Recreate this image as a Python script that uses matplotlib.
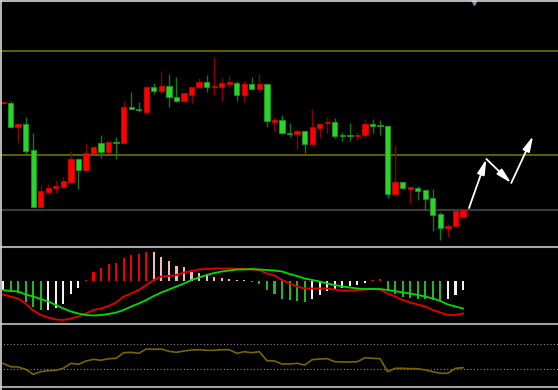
import numpy as np
import matplotlib
matplotlib.use("Agg")
import matplotlib.pyplot as plt
from matplotlib.patches import Rectangle
from matplotlib.lines import Line2D


# candle data (price units)
opens = [14.67, 14.67, 12.30, 12.57, 10.00, 4.30, 5.80, 6.23, 6.30, 6.83,
         9.07, 8.03, 9.67, 10.67, 9.77, 10.80, 10.73, 14.30, 14.13, 13.83,
         16.30, 15.93, 16.40, 15.33, 14.87, 15.50, 16.27, 16.80, 16.30, 16.33,
         16.63, 16.67, 15.53, 16.60, 16.10, 16.57, 12.85, 13.00, 11.70, 11.60,
         11.87, 10.60, 12.23, 12.67, 12.83, 11.50, 11.50, 11.37, 11.47, 12.60,
         12.50, 12.40, 5.63, 6.80, 6.10, 6.23, 5.97, 5.17, 3.57, 2.23,
         2.40, 3.33]
closes = [14.73, 12.30, 12.57, 9.93, 4.33, 5.87, 6.20, 6.37, 6.90, 9.10,
          8.03, 9.70, 10.33, 9.77, 10.80, 10.70, 14.27, 14.10, 13.97, 16.33,
          15.93, 16.40, 15.30, 14.87, 15.67, 16.30, 16.80, 16.33, 16.40, 16.70,
          16.70, 15.53, 16.60, 16.10, 16.57, 12.87, 12.97, 11.67, 11.57, 11.87,
          10.60, 12.30, 12.63, 12.83, 11.43, 11.40, 11.37, 11.50, 12.57, 12.43,
          12.37, 5.63, 6.80, 6.23, 6.27, 5.90, 5.13, 3.50, 2.17, 2.40,
          3.90, 4.00]
highs = [14.80, 14.90, 12.60, 13.30, 11.67, 6.50, 6.63, 6.97, 7.27, 9.90,
         9.17, 10.70, 10.43, 11.50, 10.90, 11.30, 14.93, 15.83, 14.83, 16.37,
         16.70, 17.90, 17.63, 17.27, 15.70, 16.33, 17.17, 17.50, 19.30, 17.20,
         17.37, 16.93, 16.90, 17.27, 17.63, 16.60, 13.27, 13.47, 12.70, 12.13,
         11.90, 14.10, 12.67, 13.27, 13.20, 11.80, 12.70, 11.80, 13.10, 13.13,
         12.97, 12.45, 10.50, 6.85, 6.30, 6.40, 6.00, 6.10, 3.77, 2.60,
         3.95, 4.00]
lows = [14.60, 12.20, 10.83, 9.63, 4.30, 4.30, 5.60, 5.70, 6.25, 6.70,
        6.07, 8.00, 9.57, 9.23, 9.67, 9.10, 10.70, 14.10, 13.77, 13.60,
        15.57, 15.57, 14.30, 14.83, 14.83, 14.73, 16.23, 15.80, 15.47, 14.93,
        16.17, 14.90, 14.77, 16.07, 15.77, 12.33, 11.93, 11.60, 11.30, 10.10,
        9.70, 10.57, 11.17, 11.73, 11.23, 10.87, 10.87, 11.00, 11.23, 11.67,
        11.47, 5.23, 5.60, 6.13, 4.60, 5.00, 4.00, 1.90, 1.00, 1.33,
        2.33, 3.33]

# horizontal levels on the price panel
resist_levels = [19.9, 9.5]
support_level = 4.0

# projected path drawn with white arrows (candle index, price)
path_x = [61.8, 64.1, 67.4, 70.3]
path_y = [4.2, 9.1, 6.7, 11.4]

# MACD
hist = [-0.17, -0.21, -0.23, -0.41, -0.52, -0.58, -0.57, -0.53, -0.45, -0.26,
        -0.13, 0.03, 0.19, 0.27, 0.34, 0.37, 0.47, 0.53, 0.55, 0.59,
        0.58, 0.48, 0.40, 0.31, 0.28, 0.19, 0.16, 0.12, 0.09, 0.07,
        0.05, 0.03, 0.02, -0.02, -0.05, -0.17, -0.25, -0.35, -0.38, -0.39,
        -0.41, -0.35, -0.28, -0.19, -0.15, -0.13, -0.10, -0.08, -0.04, 0.03,
        0.04, -0.18, -0.25, -0.31, -0.33, -0.35, -0.36, -0.37, -0.38, -0.36,
        -0.27, -0.18]
dif = [-0.27, -0.31, -0.35, -0.45, -0.59, -0.68, -0.73, -0.77, -0.78, -0.75,
       -0.71, -0.65, -0.58, -0.55, -0.50, -0.43, -0.31, -0.25, -0.18, -0.08,
       0.02, 0.09, 0.10, 0.12, 0.17, 0.20, 0.23, 0.24, 0.25, 0.25,
       0.25, 0.24, 0.24, 0.23, 0.22, 0.15, 0.11, 0.02, -0.05, -0.11,
       -0.15, -0.15, -0.15, -0.15, -0.17, -0.19, -0.19, -0.18, -0.17, -0.16,
       -0.17, -0.25, -0.31, -0.38, -0.43, -0.47, -0.51, -0.58, -0.63, -0.68,
       -0.68, -0.65]
dea = [-0.18, -0.20, -0.21, -0.27, -0.31, -0.36, -0.41, -0.48, -0.55, -0.61,
       -0.65, -0.68, -0.69, -0.68, -0.66, -0.63, -0.58, -0.51, -0.45, -0.38,
       -0.30, -0.23, -0.17, -0.11, -0.05, 0.02, 0.07, 0.12, 0.16, 0.19,
       0.21, 0.23, 0.23, 0.24, 0.23, 0.22, 0.21, 0.19, 0.14, 0.10,
       0.05, 0.02, -0.01, -0.05, -0.08, -0.11, -0.13, -0.15, -0.16, -0.16,
       -0.16, -0.18, -0.20, -0.23, -0.25, -0.28, -0.31, -0.35, -0.40, -0.47,
       -0.51, -0.55]

# RSI
rsi = [39.1, 33.7, 33.2, 29.5, 21.5, 25.7, 27.3, 27.9, 31.1, 39.1,
       37.5, 42.8, 45.5, 43.9, 46.5, 47.1, 56.1, 56.7, 55.1, 62.0,
       61.5, 62.0, 58.3, 56.7, 58.8, 60.4, 60.9, 59.9, 59.9, 60.9,
       60.9, 55.1, 57.7, 56.1, 57.7, 43.3, 42.8, 38.0, 38.0, 39.1,
       36.4, 44.9, 46.0, 46.5, 41.7, 41.2, 41.2, 41.7, 48.1, 47.1,
       46.5, 25.7, 31.1, 31.1, 30.5, 30.5, 28.4, 25.7, 23.1, 23.1,
       31.1, 32.1]
rsi_levels = [70, 30]


W, H = 558, 390
fig = plt.figure(figsize=(W / 100, H / 100), dpi=100, facecolor='black')

def px_axes(top, bottom):
    # axes spanning pixel rows top..bottom, full width
    ax = fig.add_axes([0, 1 - bottom / H, 1, (bottom - top) / H])
    ax.set_facecolor('black')
    for s in ax.spines.values():
        s.set_visible(False)
    ax.set_xticks([])
    ax.set_yticks([])
    ax.set_xlim(-0.4, 73.6)
    return ax

ax1 = px_axes(0, 246)
ax2 = px_axes(248, 322)
ax3 = px_axes(325, 386)

n = len(opens)
x = np.arange(n)

# ---- price panel
ax1.set_ylim(0.4, 25.0)
for lv in resist_levels:
    ax1.axhline(lv, color='#707008', lw=1.2, zorder=1)
ax1.axhline(support_level, color='#3a3a3a', lw=1.6, zorder=1)

for i in range(n):
    o, c, h, l = opens[i], closes[i], highs[i], lows[i]
    up = c >= o
    body_c = '#ff0000' if up else '#2bd42b'
    edge_c = '#d00000' if up else '#1a9a1a'
    wick_c = '#8a0000' if up else '#137a13'
    ax1.vlines(i, l, h, color=wick_c, lw=1.0, zorder=2)
    bh = max(abs(c - o), 0.14)
    ax1.add_patch(Rectangle((i - 0.35, min(o, c)), 0.7, bh,
                            facecolor=body_c, edgecolor=edge_c, lw=0.6, zorder=3))

for k in range(len(path_x) - 1):
    ax1.annotate('', xy=(path_x[k + 1], path_y[k + 1]), xytext=(path_x[k], path_y[k]),
                 arrowprops=dict(arrowstyle='-|>,head_length=0.9,head_width=0.22',
                                 color='white', lw=1.3, shrinkA=0, shrinkB=0),
                 zorder=5)

ax1.plot([62.5], [25.05], marker='v', ms=7, color='#8092a8', clip_on=False, zorder=6)

# ---- MACD panel
ax2.set_ylim(-0.82, 0.66)
prev = np.concatenate([[hist[0]], hist[:-1]])
colors = []
for h, p in zip(hist, prev):
    if h >= 0:
        colors.append('#ee0000' if h >= p else '#f2b8c0')
    else:
        colors.append('#22b822' if h < p else '#f2f2f2')
ax2.bar(x, hist, width=0.28, color=colors, zorder=2)
ax2.plot(x, dif, color='#dd0000', lw=1.4, zorder=3)
ax2.plot(x, dea, color='#00dd00', lw=1.3, zorder=4)

# ---- RSI panel
ax3.set_ylim(2.8, 100.4)
for lv in rsi_levels:
    ax3.axhline(lv, color='#8a8a8a', lw=0.8, ls=(0, (1, 2)), zorder=1)
ax3.plot(x, rsi, color='#7a6400', lw=1.2, zorder=2)

# panel separators and frame
for yy, col in [(247, '#a8a8a8'), (323.5, '#a0a0a0'), (387, '#a0a0a0')]:
    fig.add_artist(Line2D([0, 1], [1 - yy / H, 1 - yy / H], transform=fig.transFigure,
                          color=col, lw=1.5))
fig.add_artist(Line2D([0, 1], [1 - 0.5 / H, 1 - 0.5 / H], transform=fig.transFigure,
                      color='#d8d8d8', lw=1.2))
fig.add_artist(Line2D([0.5 / W, 0.5 / W], [0, 1], transform=fig.transFigure,
                      color='#d8d8d8', lw=1.2))

fig.savefig('out.png', dpi=100, facecolor='black')
